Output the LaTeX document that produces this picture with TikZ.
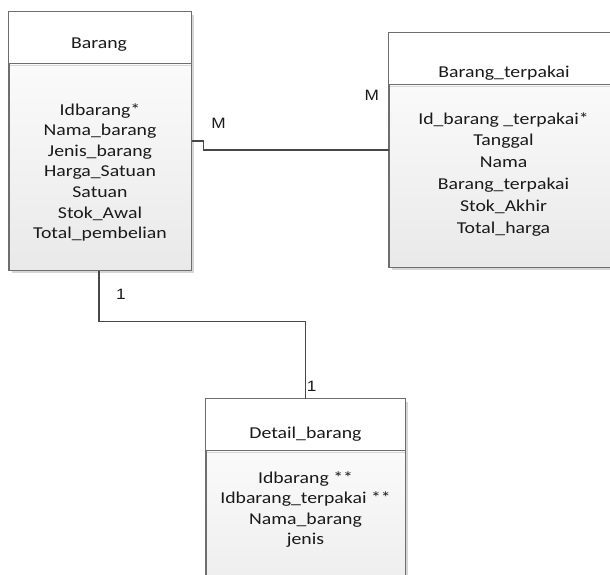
\documentclass[tikz,border=0pt]{standalone}
\usepackage{fontspec}
\setmainfont[FakeStretch=1.19]{Carlito}
\newfontfamily\labelfont[FakeStretch=1.15]{Liberation Sans}
\usetikzlibrary{shadows}
\definecolor{boxline}{HTML}{6E6E6E}
\definecolor{linkline}{HTML}{474747}
\definecolor{bodybottom}{HTML}{E9E9E9}
\definecolor{shadowgray}{HTML}{D6D6D6}
\definecolor{inkgray}{HTML}{1A1A1A}

\begin{document}
\begin{tikzpicture}[x=1pt,y=-1pt,
  entity/.style={rectangle, draw=boxline, line width=1pt, inner sep=0pt,
    top color=white, bottom color=bodybottom,
    drop shadow={shadow xshift=3pt, shadow yshift=-3pt, fill=shadowgray, opacity=1}},
  field/.style={anchor=base, inner sep=0pt, text=inkgray, font=\fontsize{16.6}{20}\selectfont},
  card/.style={anchor=base, inner sep=0pt, text=inkgray, font=\labelfont\fontsize{15}{18}\selectfont},
  link/.style={draw=linkline, line width=1.9pt},
  divider/.style={draw=boxline, line width=1pt},
  divshade/.style={draw=shadowgray, line width=1pt}
]
\clip (0,0) rectangle (610,574);

% entity boxes
\node[entity, minimum width=182pt, minimum height=258pt] (barang) at (100,141) {};
\node[entity, minimum width=230pt, minimum height=234pt] (terpakai) at (504,150) {};
\node[entity, minimum width=199pt, minimum height=241pt] (detail) at (305.5,519.5) {};

% white headers with divider lines, outline drawn again on top
\foreach \e in {barang,terpakai,detail}{
  \fill[white] (\e.north west) rectangle ([shift={(0,52)}]\e.north east);
  \draw[divshade] ([shift={(1,54)}]\e.north west) -- ([shift={(-1,54)}]\e.north east);
  \draw[divider] ([shift={(0,52)}]\e.north west) -- ([shift={(0,52)}]\e.north east);
  \draw[divider] (\e.north west) rectangle (\e.south east);
}

% Barang
\node[field] (barang-title) at (99,48.5) {Barang};
\foreach \t [count=\i] in {Idbarang*, Nama\_barang, Jenis\_barang, Harga\_Satuan, Satuan, Stok\_Awal, Total\_pembelian}
  \node[field] (barang-f\i) at (100,{115+20.6*(\i-1)}) {\t};

% Barang_terpakai
\node[field] (terpakai-title) at (504,77) {Barang\_terpakai};
\foreach \t [count=\i] in {Id\_barang \_terpakai*, Tanggal, Nama, Barang\_terpakai, Stok\_Akhir, Total\_harga}
  \node[field] (terpakai-f\i) at (503.5,{124+21.8*(\i-1)}) {\t};

% Detail_barang
\node[field] (detail-title) at (305.5,438.5) {Detail\_barang};
\foreach \t [count=\i] in {Idbarang **, Idbarang\_terpakai **, Nama\_barang, jenis}
  \node[field] (detail-f\i) at (305.5,{483+20.5*(\i-1)}) {\t};

% relationships
\draw[link] (barang.east) -- ++(12,0) |- (terpakai.west);
\draw[link] ([xshift=-1pt]barang.south) -- ++(0,51) -| (detail.north);

% cardinalities
\node[card] (card-m1) at (218.5,128) {M};
\node[card] (card-m2) at (371.8,100.7) {M};
\node[card] (card-one1) at (121,299) {1};
\node[card] (card-one2) at (311.7,391.7) {1};
\end{tikzpicture}
\end{document}
